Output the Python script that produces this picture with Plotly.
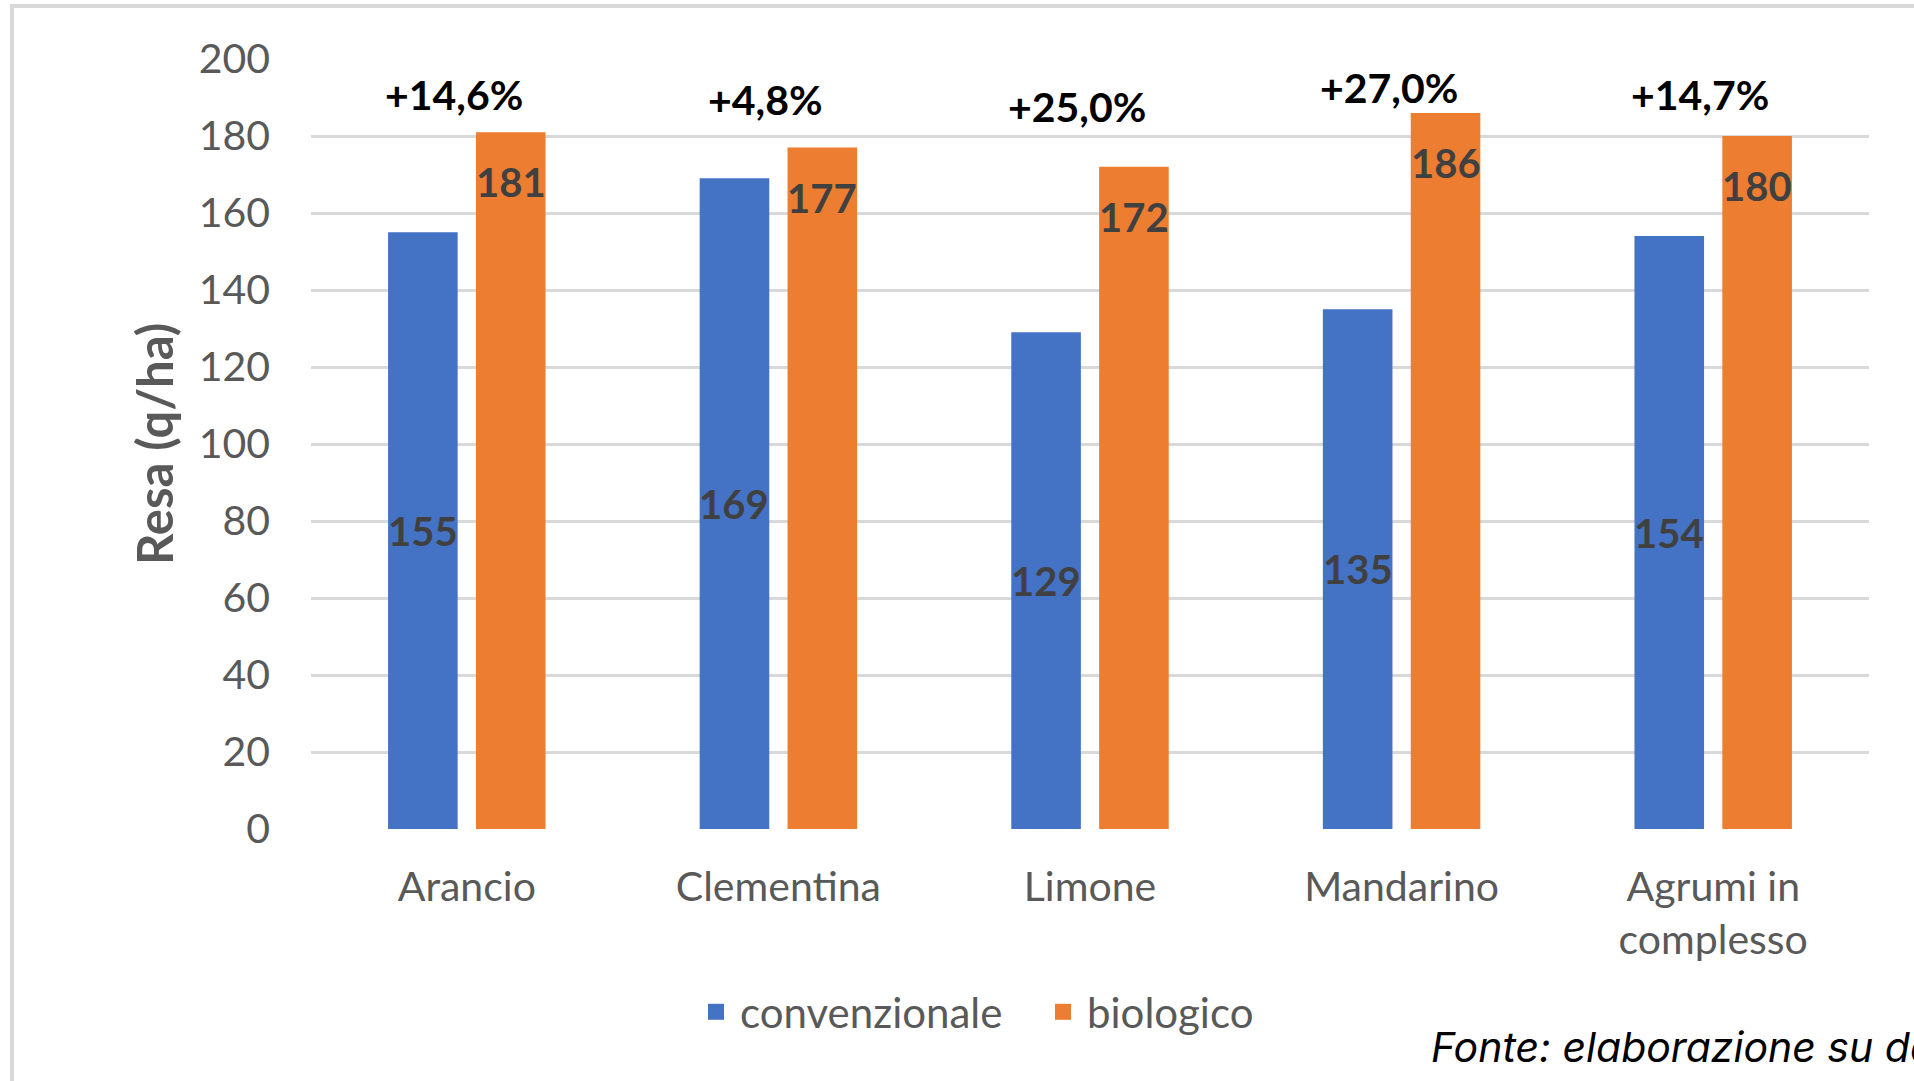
import plotly.graph_objects as go

# --- dati ---
categories = ["Arancio", "Clementina", "Limone", "Mandarino", "Agrumi in<br>complesso"]
convenzionale = [155, 169, 129, 135, 154]
biologico = [181, 177, 172, 186, 180]
variazione = ["+14,6%", "+4,8%", "+25,0%", "+27,0%", "+14,7%"]
y_ticks = [0, 20, 40, 60, 80, 100, 120, 140, 160, 180, 200]

# altezza (in q/ha) a cui stanno le etichette di variazione, messe a mano come nell'originale
pct_label_y = [190.8, 189.5, 187.6, 192.7, 190.8]

# --- stile ---
BLUE = "#4472C4"
ORANGE = "#ED7D31"
GRID = "#D9D9D9"
TICK = "#595959"
LABEL = "#404040"
FONT = "Lato"

W, H = 1914, 1081
M_L, M_R, M_T, M_B = 311, 45, 59, 252
PLOT_W = W - M_L - M_R
PLOT_H = H - M_T - M_B


def px_x(x):
    return (x - M_L) / PLOT_W


def px_y(y):
    return (H - M_B - y) / PLOT_H


fig = go.Figure()
fig.add_trace(go.Bar(name="convenzionale", x=categories, y=convenzionale, showlegend=False,
                     marker=dict(color=BLUE, line=dict(width=0)), hoverinfo="y"))
fig.add_trace(go.Bar(name="biologico", x=categories, y=biologico, showlegend=False,
                     marker=dict(color=ORANGE, line=dict(width=0)), hoverinfo="y"))
# voci di legenda con quadratini piu' grandi (come in Excel)
for name, col in (("convenzionale", BLUE), ("biologico", ORANGE)):
    fig.add_trace(go.Scatter(name=name, x=[None], y=[None], mode="markers",
                             marker=dict(symbol="square", size=16, color=col)))

label_font = dict(family=FONT, size=40, color=LABEL, weight="bold")
for cat, c, b, pct, py in zip(categories, convenzionale, biologico, variazione, pct_label_y):
    fig.add_annotation(x=cat, y=c / 2, text=str(c), xshift=-44, showarrow=False,
                       font=label_font, yanchor="middle")
    fig.add_annotation(x=cat, y=b, text=str(b), xshift=44, yshift=-50, showarrow=False,
                       font=label_font, yanchor="middle")
    fig.add_annotation(x=cat, y=py, text=pct, xshift=-13, showarrow=False,
                       font=dict(family=FONT, size=41, color="black", weight="bold"),
                       yanchor="middle")

# titolo asse y
fig.add_annotation(xref="paper", yref="paper", x=px_x(154), y=0.5, text="Resa (q/ha)",
                   textangle=-90, showarrow=False, xanchor="center", yanchor="middle",
                   font=dict(family=FONT, size=49, color=TICK, weight="bold"))

# fonte
fig.add_annotation(xref="paper", yref="paper", x=px_x(1429), y=px_y(1047),
                   text="Fonte: elaborazione su dati", showarrow=False,
                   xanchor="left", yanchor="middle",
                   font=dict(family="Inter", size=41, color="black", style="italic"))

# cornice del grafico
fig.add_shape(type="rect", xref="paper", yref="paper",
              x0=px_x(12), x1=px_x(W + 40), y0=px_y(H + 40), y1=px_y(6),
              line=dict(color=GRID, width=4), fillcolor="rgba(0,0,0,0)", layer="below")

fig.update_layout(
    width=W,
    height=H,
    barmode="group",
    bargap=0.436,
    bargroupgap=0.208,
    paper_bgcolor="white",
    plot_bgcolor="white",
    font=dict(family=FONT, size=41, color=TICK),
    margin=dict(l=M_L, r=M_R, t=M_T, b=M_B),
    showlegend=True,
    legend=dict(orientation="h", x=px_x(692), xanchor="left", y=px_y(1012), yanchor="middle",
                font=dict(family=FONT, size=42, color=TICK), entrywidth=294, itemwidth=38,
                bgcolor="rgba(0,0,0,0)"),
)
fig.update_yaxes(range=[0, 200], tickvals=y_ticks, showgrid=True, gridcolor=GRID, gridwidth=3,
                 zeroline=False, showline=False, ticks="", ticklabelstandoff=40,
                 tickfont=dict(family=FONT, size=41, color=TICK))
fig.update_xaxes(showgrid=False, showline=False, zeroline=False, ticks="", ticklabelstandoff=30,
                 tickfont=dict(family=FONT, size=41, color=TICK))

fig.write_html("out.html", config={"displayModeBar": False},
               post_script="document.body.style.margin = '0';")
